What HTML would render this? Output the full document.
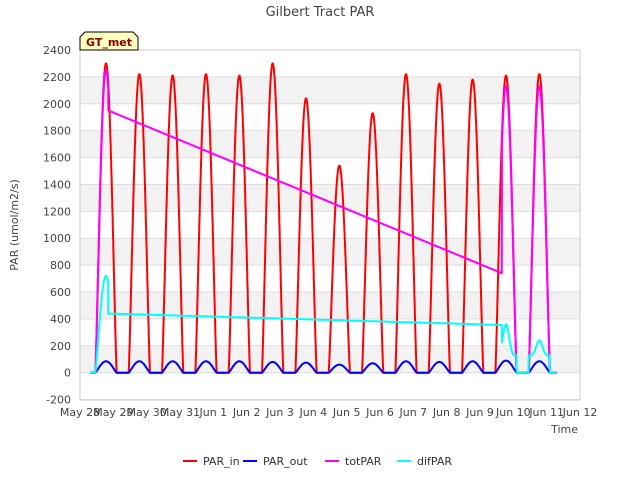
<!DOCTYPE html>
<html><head><meta charset="utf-8"><style>
body{margin:0;background:#fff;font-family:"Liberation Sans","DejaVu Sans",sans-serif}
</style></head><body>
<svg id="c" width="640" height="480" xmlns="http://www.w3.org/2000/svg" font-family="DejaVu Sans, Liberation Sans, sans-serif">
<text x="320" y="16" text-anchor="middle" font-size="13" fill="#444">Gilbert Tract PAR</text>
<g id="bands"></g><g id="grid"></g>
<rect x="80" y="50" width="500" height="350" fill="none" stroke="#ccc"/>
<g id="ticks" font-size="11" fill="#444"></g>
<text transform="translate(18,225) rotate(-90)" text-anchor="middle" font-size="11" fill="#444">PAR (umol/m2/s)</text>
<text x="578" y="433" text-anchor="end" font-size="11" fill="#444">Time</text>
<g id="series"></g>
<g><path d="M80,50 L80,37 L85,32 L133,32 L138,37 L138,50 Z" fill="#ffffc0" stroke="#000"/>
<text x="109" y="46" text-anchor="middle" font-size="11" font-weight="bold" fill="#8b0000">GT_met</text></g>
<g id="legend" font-size="11" fill="#333"></g>
</svg>
<script>
const yTicks=[-200,0,200,400,600,800,1000,1200,1400,1600,1800,2000,2200,2400];
const xTickLabels=["May 28","May 29","May 30","May 31","Jun 1","Jun 2","Jun 3","Jun 4","Jun 5","Jun 6","Jun 7","Jun 8","Jun 9","Jun 10","Jun 11","Jun 12"];
const parInPeaks=[2300,2220,2210,2220,2210,2300,2040,1540,1930,2220,2150,2180,2210,2220];
const parOutPeaks=[85,85,85,85,85,80,75,60,70,85,80,85,90,85];
const totFirstPeak=2250;
const totLine=[1950,740];
const totLatePeaks=[2130,2130];
const difFirstPeak=720;
const difLine=[440,355];
const difLate=[[130,360],[130,240]];
const NS="http://www.w3.org/2000/svg";
const X=t=>80+t*500/15, Y=v=>372.7-v*322.7/2400;
const svg=document.getElementById('c');
function el(tag,attrs,parent){const e=document.createElementNS(NS,tag);for(const k in attrs)e.setAttribute(k,attrs[k]);parent.appendChild(e);return e;}
const bands=document.getElementById('bands'),grid=document.getElementById('grid'),ticks=document.getElementById('ticks');
for(let v=0;v<2400;v+=400){const b=el('rect',{x:80,y:Y(v+200),width:500,height:Y(v)-Y(v+200),fill:'#f2f2f2'},bands);

}
yTicks.forEach(v=>{const l=el('line',{x1:80,x2:580,y1:Y(v),y2:Y(v),stroke:'#ddd'},grid);


const t=el('text',{x:71,y:Y(v)+4,'text-anchor':'end'},ticks);t.textContent=v;

});
xTickLabels.forEach((s,i)=>{const t=el('text',{x:X(i),y:416,'text-anchor':'middle'},ticks);t.textContent=s;

});
const C=0.78,H=0.32;
function shape(t,d){const u=(t-(d+C-H))/(2*H);return (u<=0||u>=1)?0:Math.pow(Math.sin(Math.PI*u),1.2);}
function dayVal(t,peaks){const d=Math.floor(t-C+0.5);if(d<0||d>=peaks.length)return 0;return peaks[d]*shape(t,d);}
const T0=0.3,T1=14.3,LS=0.85,LE=12.66;
function pts(f){const a=[];for(let t=T0;t<=T1+1e-9;t+=0.005)a.push(X(t).toFixed(1)+','+Y(f(t)).toFixed(1));return a.join(' ');}
const parIn=t=>dayVal(t,parInPeaks);
const parOut=t=>dayVal(t,parOutPeaks);
const tot=t=>{if(t<LS)return totFirstPeak*shape(t,0);if(t<LE)return totLine[0]+(totLine[1]-totLine[0])*(t-LS)/(LE-LS);const d=Math.floor(t-C+0.5);if(d<12)return 0;return (totLatePeaks[d-12]||0)*shape(t,d);};
const dif=t=>{if(t<LS)return difFirstPeak*shape(t,0);if(t<LE)return difLine[0]+(difLine[1]-difLine[0])*(t-LS)/(LE-LS);const d=Math.floor(t-C+0.5);if(d<12)return 0;const p=difLate[d-12];if(!p)return 0;const s=shape(t,d);return s>0?p[0]+(p[1]-p[0])*Math.pow(s,4):0;};
const series=document.getElementById('series');
[[parIn,'#ff0000','par-in-line'],[parOut,'#0000ff','par-out-line'],[tot,'#ff00ff','totpar-line'],[dif,'#00ffff','difpar-line']].forEach(([f,c,n])=>{
const p=el('polyline',{points:pts(f),fill:'none',stroke:c,'stroke-width':2,'stroke-linejoin':'round'},series);

});
const lg=document.getElementById('legend');
[['PAR_in','#ff0000',183],['PAR_out','#0000ff',243],['totPAR','#ff00ff',325],['difPAR','#00ffff',397]].forEach(([s,c,x])=>{
const g=el('g',{},lg);


el('line',{x1:x,x2:x+14,y1:461,y2:461,stroke:c,'stroke-width':2},g);
const t=el('text',{x:x+20,y:465},g);t.textContent=s;});
</script>
</body></html>
